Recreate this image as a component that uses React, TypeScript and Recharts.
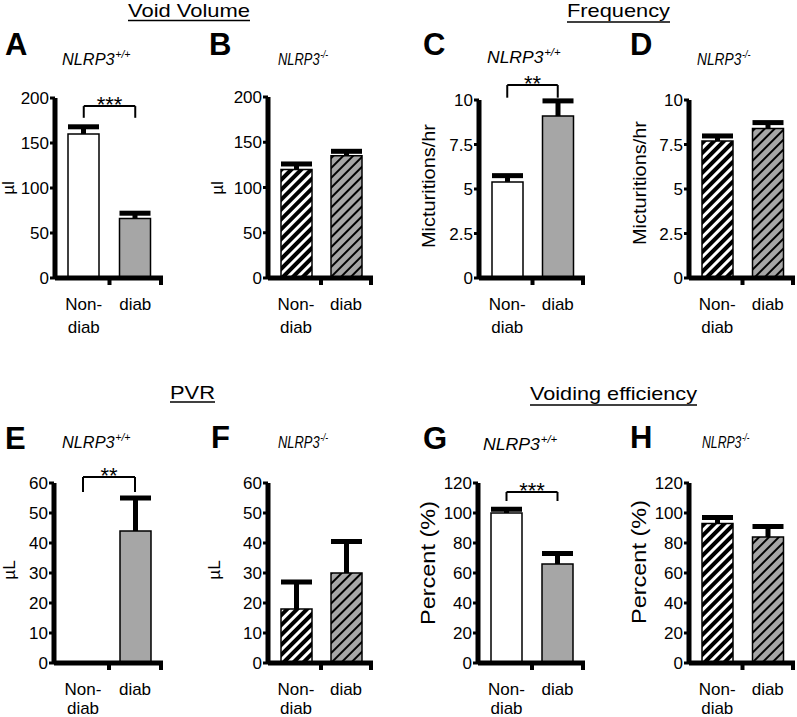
import React from 'react';
import { BarChart, Bar, XAxis, YAxis, Cell, ReferenceLine } from 'recharts';

const FONT = '"Liberation Sans", Arial, Helvetica, sans-serif';

// ---- data ----
const categories = ['Non-diab', 'diab'];
const categoryLines = [['Non-', 'diab'], ['diab']];

const voidVolumeWT = [160, 66];
const voidVolumeWTSem = [8, 6];
const voidVolumeKO = [120, 135];
const voidVolumeKOSem = [6, 5];

const frequencyWT = [5.4, 9.1];
const frequencyWTSem = [0.35, 0.85];
const frequencyKO = [7.7, 8.4];
const frequencyKOSem = [0.28, 0.33];

const pvrWT = [0, 44];
const pvrWTSem = [0, 11];
const pvrKO = [18, 30];
const pvrKOSem = [9, 10.5];

const efficiencyWT = [100, 66];
const efficiencyWTSem = [2.5, 7];
const efficiencyKO = [93, 84];
const efficiencyKOSem = [4, 7];

const volumeTicks = [0, 50, 100, 150, 200];
const frequencyTicks = [0, 2.5, 5, 7.5, 10];
const pvrTicks = [0, 10, 20, 30, 40, 50, 60];
const efficiencyTicks = [0, 20, 40, 60, 80, 100, 120];

// significance brackets: top and leg bottom in data units, with the label
const bracketVolume = { top: 191, leg: 178, label: '***' };
const bracketFrequency = { top: 10.84, leg: 10.13, label: '**' };
const bracketPvr = { top: 62, leg: 57, label: '**' };
const bracketEfficiency = { top: 114, leg: 108, label: '***' };

// ---- layout ----
const panels = [
  { id: 'A', values: voidVolumeWT, sems: voidVolumeWTSem, ticks: volumeTicks, ko: false, axisX: 55, plotTop: 98, plotBottom: 278, plotRight: 163, bracket: bracketVolume, l2: 55 },
  { id: 'B', values: voidVolumeKO, sems: voidVolumeKOSem, ticks: volumeTicks, ko: true, axisX: 268, plotTop: 97, plotBottom: 278, plotRight: 373, l2: 55 },
  { id: 'C', values: frequencyWT, sems: frequencyWTSem, ticks: frequencyTicks, ko: false, axisX: 479, plotTop: 100, plotBottom: 278, plotRight: 585, bracket: bracketFrequency, l2: 55 },
  { id: 'D', values: frequencyKO, sems: frequencyKOSem, ticks: frequencyTicks, ko: true, axisX: 689, plotTop: 100, plotBottom: 278, plotRight: 795, l2: 55 },
  { id: 'E', values: pvrWT, sems: pvrWTSem, ticks: pvrTicks, ko: false, axisX: 54, plotTop: 483, plotBottom: 663, plotRight: 163, bracket: bracketPvr, l2: 51 },
  { id: 'F', values: pvrKO, sems: pvrKOSem, ticks: pvrTicks, ko: true, axisX: 268, plotTop: 483, plotBottom: 663, plotRight: 373, l2: 51 },
  { id: 'G', values: efficiencyWT, sems: efficiencyWTSem, ticks: efficiencyTicks, ko: false, axisX: 478, plotTop: 483, plotBottom: 663, plotRight: 585, bracket: bracketEfficiency, l2: 51 },
  { id: 'H', values: efficiencyKO, sems: efficiencyKOSem, ticks: efficiencyTicks, ko: true, axisX: 689, plotTop: 483, plotBottom: 663, plotRight: 795, l2: 51 },
];

const sections = [
  { text: 'Void Volume', x: 128, y: 17, w: 122, uy: 20.5 },
  { text: 'Frequency', x: 567, y: 17, w: 103, uy: 22 },
  { text: 'PVR', x: 170, y: 399, w: 45, uy: 402 },
  { text: 'Voiding efficiency', x: 530, y: 400, w: 167, uy: 405 },
];

const letters = [
  { t: 'A', x: 5, y: 55 }, { t: 'B', x: 209, y: 55 }, { t: 'C', x: 423, y: 55 }, { t: 'D', x: 630, y: 55 },
  { t: 'E', x: 5, y: 449 }, { t: 'F', x: 211, y: 448 }, { t: 'G', x: 423, y: 449 }, { t: 'H', x: 630, y: 448 },
];

const titles = [
  { sup: '+/+', x: 62, y: 65, sx: 0.96 },
  { sup: '-/-', x: 278, y: 65, sx: 0.76 },
  { sup: '+/+', x: 487, y: 63, sx: 1.03 },
  { sup: '-/-', x: 697, y: 65, sx: 0.81 },
  { sup: '+/+', x: 62, y: 448, sx: 0.96 },
  { sup: '-/-', x: 278, y: 448, sx: 0.76 },
  { sup: '+/+', x: 483, y: 450, sx: 1.04 },
  { sup: '-/-', x: 702, y: 448, sx: 0.72 },
];

const yLabels = [
  { t: 'µl', cx: 8, cy: 188, fs: 17 },
  { t: 'µl', cx: 217, cy: 188, fs: 17 },
  { t: 'Micturitions/hr', cx: 428, cy: 186, fs: 19, len: 124 },
  { t: 'Micturitions/hr', cx: 639, cy: 183, fs: 19, len: 124 },
  { t: 'µL', cx: 9, cy: 570, fs: 17 },
  { t: 'µL', cx: 214, cy: 570, fs: 17 },
  { t: 'Percent (%)', cx: 428, cy: 563, fs: 21, len: 124 },
  { t: 'Percent (%)', cx: 639, cy: 562, fs: 21, len: 124 },
];

const ErrShape = (props: any) => {
  const { x, y, width, height } = props;
  if (!height || height <= 0) return <g />;
  const cx = x + width / 2;
  return (
    <g>
      <rect x={cx - 2.5} y={y} width={5} height={height} fill="#000" />
      <rect x={x} y={y - 2.5} width={width} height={5} fill="#000" />
    </g>
  );
};

const makeXTick = (l2: number) => (props: any) => {
  const { x, y, payload, index } = props;
  const off = payload && typeof payload.offset === 'number' ? payload.offset : 26;
  const lines = categoryLines[index] || [String(payload.value)];
  return (
    <g>
      <line x1={x + off} x2={x + off} y1={y} y2={y + 7} stroke="#000" strokeWidth={4} />
      {lines.map((l, i) => (
        <text key={i} x={x} y={y + 32 + i * (l2 - 32)} textAnchor="middle" fontSize={17} fontFamily={FONT} fill="#000">
          {l}
        </text>
      ))}
    </g>
  );
};

function Panel(p: any) {
  const data = categories.map((c, i) => ({ cat: c, value: p.values[i], sem: p.sems[i] }));
  const left = p.axisX - 50;
  const top = p.plotTop - 45;
  const W = p.plotRight + 2 - left;
  const H = p.plotBottom + 60 - top;
  const max = p.ticks[p.ticks.length - 1];
  const fills = p.ko ? [`url(#hw-${p.id})`, `url(#hg-${p.id})`] : ['#ffffff', '#a6a6a6'];
  const b = p.bracket;
  const XTick = makeXTick(p.l2);
  return (
    <div style={{ position: 'absolute', left, top, width: W, height: H }}>
      <BarChart width={W} height={H} data={data} margin={{ top: 45, right: 2, bottom: 0, left: 0 }} barSize={31}>
        <defs>
          <pattern id={`hw-${p.id}`} patternUnits="userSpaceOnUse" width={7} height={7} patternTransform="rotate(45)">
            <rect width={7} height={7} fill="#ffffff" />
            <rect width={4} height={7} fill="#000000" />
          </pattern>
          <pattern id={`hg-${p.id}`} patternUnits="userSpaceOnUse" width={7} height={7} patternTransform="rotate(45)">
            <rect width={7} height={7} fill="#a6a6a6" />
            <rect width={2} height={7} fill="#000000" />
          </pattern>
        </defs>
        <XAxis
          dataKey="cat"
          type="category"
          height={60}
          interval={0}
          padding={{ left: 3, right: 2 }}
          tickLine={false}
          tickSize={0}
          tickMargin={0}
          axisLine={{ stroke: '#000', strokeWidth: 5 }}
          tick={(tp: any) => <XTick {...tp} />}
        />
        <YAxis
          type="number"
          domain={[0, max]}
          ticks={p.ticks}
          interval={0}
          width={50}
          axisLine={{ stroke: '#000', strokeWidth: 5 }}
          tickLine={{ stroke: '#000', strokeWidth: 3 }}
          tickSize={5}
          tickMargin={1}
          tick={{ fill: '#000', fontSize: 17, fontFamily: FONT }}
        />
        <Bar dataKey="value" stackId="s" stroke="#000" strokeWidth={1.5} isAnimationActive={false}>
          {data.map((d, i) => (
            <Cell key={i} fill={fills[i]} />
          ))}
        </Bar>
        <Bar dataKey="sem" stackId="s" isAnimationActive={false} shape={ErrShape} />
        {b && (
          <ReferenceLine
            segment={[{ x: categories[0], y: b.top }, { x: categories[1], y: b.top }]}
            stroke="#000"
            strokeWidth={2}
            ifOverflow="visible"
            label={{ value: b.label, position: 'top', offset: -6, fontSize: 22, fill: '#000', fontFamily: FONT }}
          />
        )}
        {b && (
          <ReferenceLine
            segment={[{ x: categories[0], y: b.top }, { x: categories[0], y: b.leg }]}
            stroke="#000"
            strokeWidth={2}
            ifOverflow="visible"
          />
        )}
        {b && (
          <ReferenceLine
            segment={[{ x: categories[1], y: b.top }, { x: categories[1], y: b.leg }]}
            stroke="#000"
            strokeWidth={2}
            ifOverflow="visible"
          />
        )}
      </BarChart>
    </div>
  );
}

export default function App() {
  return (
    <div style={{ position: 'absolute', left: 0, top: 0, width: 797, height: 717, overflow: 'hidden', background: '#fff', fontFamily: FONT }}>
      {panels.map((p) => (
        <Panel key={p.id} {...p} />
      ))}
      <svg width={797} height={717} style={{ position: 'absolute', left: 0, top: 0, pointerEvents: 'none' }}>
        {sections.map((s, i) => (
          <g key={i}>
            <text x={s.x} y={s.y} fontSize={19} fontFamily={FONT} fill="#000" textLength={s.w} lengthAdjust="spacingAndGlyphs">
              {s.text}
            </text>
            <line x1={s.x} x2={s.x + s.w} y1={s.uy} y2={s.uy} stroke="#000" strokeWidth={1.5} />
          </g>
        ))}
        {letters.map((l, i) => (
          <text key={i} x={l.x} y={l.y} fontSize={31} fontWeight="bold" fontFamily={FONT} fill="#000">
            {l.t}
          </text>
        ))}
        {titles.map((t, i) => (
          <g key={i} transform={`translate(${t.x},${t.y}) scale(${t.sx},1)`}>
            <text x={0} y={0} fontSize={17} fontStyle="italic" fontFamily={FONT} fill="#000">
              NLRP3
            </text>
            <text x={55.5} y={-7} fontSize={11} fontStyle="italic" fontFamily={FONT} fill="#000">
              {t.sup}
            </text>
          </g>
        ))}
        {yLabels.map((l, i) => (
          <text
            key={i}
            transform={`translate(${l.cx},${l.cy}) rotate(-90)`}
            textAnchor="middle"
            dy="0.35em"
            fontSize={l.fs}
            fontFamily={FONT}
            fill="#000"
            {...(l.len ? { textLength: l.len, lengthAdjust: 'spacingAndGlyphs' } : {})}
          >
            {l.t}
          </text>
        ))}
      </svg>
    </div>
  );
}
